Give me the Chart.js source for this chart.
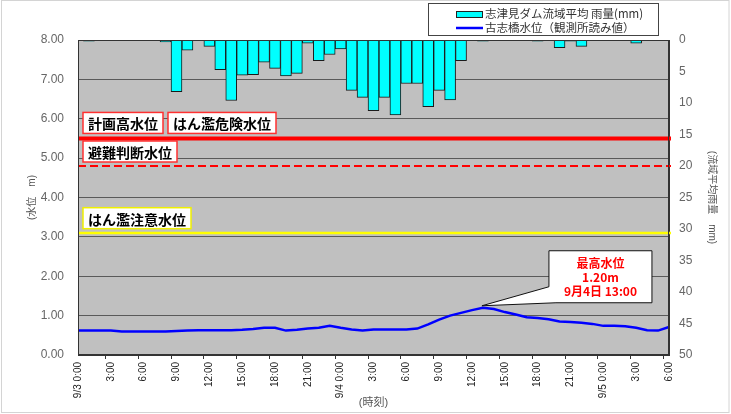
<!DOCTYPE html>
<html lang="ja">
<head>
<meta charset="utf-8">
<title>古志橋水位・志津見ダム流域平均雨量</title>
<script src="https://cdn.jsdelivr.net/npm/chart.js@4.4.1/dist/chart.umd.min.js"></script>
<style>
  body { margin: 0; background: #fff; }
  #wrap { width: 731px; height: 414px; }
</style>
</head>
<body>
<div id="wrap"><canvas id="chart" width="731" height="414"></canvas></div>
<script>
// 時刻（1時間毎、9/3 0:00 ～ 9/5 6:00）
const timeLabels = [
  '9/3 0:00', '1:00', '2:00', '3:00', '4:00', '5:00', '6:00', '7:00', '8:00', '9:00', '10:00', '11:00',
  '12:00', '13:00', '14:00', '15:00', '16:00', '17:00', '18:00', '19:00', '20:00', '21:00', '22:00', '23:00',
  '9/4 0:00', '1:00', '2:00', '3:00', '4:00', '5:00', '6:00', '7:00', '8:00', '9:00', '10:00', '11:00',
  '12:00', '13:00', '14:00', '15:00', '16:00', '17:00', '18:00', '19:00', '20:00', '21:00', '22:00', '23:00',
  '9/5 0:00', '1:00', '2:00', '3:00', '4:00', '5:00', '6:00'
];

// 志津見ダム流域平均雨量 (mm)
const rainfall = [
  0, 0.2, 0, 0, 0, 0, 0, 0, 0.3, 8.2, 1.6, 0,
  1.0, 4.7, 9.6, 5.6, 5.5, 3.5, 4.5, 5.7, 5.3, 0.5, 3.3, 2.3,
  1.4, 8.0, 9.1, 11.2, 9.1, 11.9, 6.9, 6.9, 10.6, 8.0, 9.5, 3.3,
  0, 0.2, 0, 0, 0, 0, 0.2, 0, 1.2, 0.2, 1.0, 0,
  0, 0, 0, 0.5, 0, 0, 0
];

// 古志橋水位 (m)
const waterLevel = [
  0.62, 0.62, 0.62, 0.62, 0.60, 0.60, 0.60, 0.60, 0.60, 0.61, 0.62, 0.63,
  0.63, 0.63, 0.63, 0.64, 0.66, 0.69, 0.69, 0.62, 0.64, 0.67, 0.69, 0.74,
  0.69, 0.65, 0.62, 0.65, 0.65, 0.65, 0.65, 0.67, 0.78, 0.90, 1.00, 1.07,
  1.14, 1.20, 1.17, 1.09, 1.03, 0.96, 0.94, 0.91, 0.85, 0.84, 0.82, 0.79,
  0.74, 0.74, 0.73, 0.69, 0.63, 0.62, 0.71
];

// 基準水位 (m)
const thresholdValues = [5.50, 4.80, 3.10];
const thresholdNames = [['計画高水位', 'はん濫危険水位'], ['避難判断水位'], ['はん濫注意水位']];

const peakText = ['最高水位', '1.20m', '9月4日 13:00'];
const rainLabel = '志津見ダム流域平均 雨量(mm)';
const levelLabel = '古志橋水位（観測所読み値）';

Chart.defaults.font.family = "'Liberation Sans', Arial, 'Noto Sans CJK JP', sans-serif";

const jpFont = "'Noto Sans CJK JP', sans-serif";

// 背景とプロット枠
const plotFrame = {
  id: 'plotFrame',
  beforeDraw(chart) {
    const { ctx, chartArea: a } = chart;
    ctx.save();
    ctx.fillStyle = '#fff';
    ctx.fillRect(0, 0, chart.width, chart.height);
    ctx.strokeStyle = '#d4d4d4';
    ctx.lineWidth = 1;
    ctx.strokeRect(1.5, 0.5, chart.width - 3.5, chart.height - 2);
    ctx.fillStyle = '#c0c0c0';
    ctx.fillRect(a.left, a.top, a.right - a.left, a.bottom - a.top);
    ctx.restore();
  },
  afterDraw(chart) {
    const { ctx, chartArea: a } = chart;
    ctx.save();
    ctx.strokeStyle = '#333';
    ctx.lineWidth = 1;
    ctx.strokeRect(a.left + 0.5, a.top + 0.5, a.right - a.left - 1, a.bottom - a.top - 1);
    ctx.restore();
  }
};

// 基準水位の線とラベル
const lineStyles = [
  { color: '#ff0000', width: 4, dash: [], box: '#ff3030' },
  { color: '#ff0000', width: 2, dash: [8, 4], box: '#ff3030' },
  { color: '#ffff00', width: 2.5, dash: [], box: '#f0f000' }
];

const thresholdLines = {
  id: 'thresholdLines',
  afterDatasetsDraw(chart) {
    const { ctx, chartArea: a, scales } = chart;
    ctx.save();
    thresholdValues.forEach((v, i) => {
      const st = lineStyles[i];
      const y = scales.y.getPixelForValue(v);
      ctx.beginPath();
      ctx.strokeStyle = st.color;
      ctx.lineWidth = st.width;
      ctx.setLineDash(st.dash);
      ctx.moveTo(a.left, y);
      ctx.lineTo(a.right + 2, y);
      ctx.stroke();
      ctx.setLineDash([]);

      ctx.font = 'bold 14px ' + jpFont;
      ctx.textBaseline = 'middle';
      ctx.textAlign = 'left';
      const bottom = y - st.width / 2 - 3;
      const h = 21;
      let x = a.left + 5;
      thresholdNames[i].forEach(name => {
        const w = ctx.measureText(name).width + 10;
        ctx.fillStyle = '#fff';
        ctx.fillRect(x, bottom - h, w, h);
        ctx.strokeStyle = st.box;
        ctx.lineWidth = 1.5;
        ctx.strokeRect(x, bottom - h, w, h);
        ctx.fillStyle = '#000';
        ctx.fillText(name, x + 5, bottom - h / 2 + 1);
        x += w + 5;
      });
    });
    ctx.restore();
  }
};

// 最高水位の吹き出し
const peakCallout = {
  id: 'peakCallout',
  afterDatasetsDraw(chart) {
    const { ctx, scales } = chart;
    const maxVal = Math.max(...waterLevel);
    const idx = waterLevel.indexOf(maxVal);
    const tx = scales.x.getPixelForValue(idx) - 1;
    const ty = scales.y.getPixelForValue(maxVal) - 2;
    const left = tx + 67, top = ty - 55, w = 103, h = 52;
    ctx.save();
    ctx.beginPath();
    ctx.moveTo(left, top);
    ctx.lineTo(left + w, top);
    ctx.lineTo(left + w, top + h);
    ctx.lineTo(left + 7, top + h);
    ctx.lineTo(tx, ty);
    ctx.lineTo(left, top + 36);
    ctx.closePath();
    ctx.fillStyle = '#fff';
    ctx.fill();
    ctx.strokeStyle = '#111';
    ctx.lineWidth = 1;
    ctx.stroke();
    ctx.fillStyle = '#ff0000';
    ctx.font = 'bold 12px ' + jpFont;
    ctx.textAlign = 'center';
    ctx.textBaseline = 'middle';
    peakText.forEach((t, i) => ctx.fillText(t, left + w / 2, top + 13 + i * 14));
    ctx.restore();
  }
};

// 凡例
const boxLegend = {
  id: 'boxLegend',
  afterDraw(chart) {
    const { ctx } = chart;
    const ds = chart.data.datasets;
    const rain = ds.find(d => d.yAxisID === 'y2');
    const level = ds.find(d => d.yAxisID === 'y');
    ctx.save();
    ctx.fillStyle = '#fff';
    ctx.fillRect(428.5, 3.5, 230, 32);
    ctx.strokeStyle = '#444';
    ctx.lineWidth = 1;
    ctx.strokeRect(428.5, 3.5, 230, 32);

    ctx.fillStyle = rain.backgroundColor;
    ctx.fillRect(456.5, 11.5, 26, 6);
    ctx.strokeStyle = '#222';
    ctx.strokeRect(456.5, 11.5, 26, 6);

    ctx.beginPath();
    ctx.strokeStyle = level.borderColor;
    ctx.lineWidth = 2.5;
    ctx.moveTo(456, 28);
    ctx.lineTo(483, 28);
    ctx.stroke();

    ctx.fillStyle = '#333';
    ctx.font = '11.5px ' + jpFont;
    ctx.textBaseline = 'middle';
    ctx.fillText(rain.label, 485, 14);
    ctx.fillText(level.label, 485, 28);
    ctx.restore();
  }
};

new Chart(document.getElementById('chart'), {
  type: 'bar',
  data: {
    labels: timeLabels,
    datasets: [
      {
        type: 'line',
        label: levelLabel,
        data: waterLevel,
        yAxisID: 'y',
        borderColor: '#0000ff',
        borderWidth: 2.5,
        pointRadius: 0,
        tension: 0,
        order: 0
      },
      {
        label: rainLabel,
        data: rainfall,
        yAxisID: 'y2',
        backgroundColor: '#00ffff',
        borderColor: '#1a1a1a',
        borderWidth: 1,
        barPercentage: 1,
        categoryPercentage: 1,
        order: 1
      }
    ]
  },
  options: {
    responsive: false,
    animation: false,
    layout: { padding: { top: 40, left: 0, right: 0, bottom: 0 } },
    plugins: {
      legend: { display: false },
      tooltip: { enabled: false }
    },
    scales: {
      x: {
        offset: false,
        grid: {
          drawOnChartArea: false,
          tickLength: 4,
          color: c => (c.index % 3 === 0 ? '#333' : 'rgba(0,0,0,0)')
        },
        border: { color: '#333' },
        ticks: {
          autoSkip: false,
          maxRotation: 90,
          minRotation: 90,
          padding: 3,
          color: '#222',
          font: { size: 10 },
          callback: (v, i) => (i % 3 === 0 ? timeLabels[i] : '')
        },
        title: { display: true, text: '(時刻)', color: '#555', font: { size: 11 }, padding: { top: 0, bottom: 4 } },
        afterFit: s => { s.height = 59; }
      },
      y: {
        position: 'left',
        min: 0,
        max: 8,
        ticks: { stepSize: 1, padding: 14, color: '#666', font: { size: 12 }, callback: v => v.toFixed(2) },
        grid: { color: '#5a5a5a', drawTicks: false },
        border: { color: '#333' },
        title: { display: true, text: '(水位　m)', color: '#555', font: { size: 10 }, padding: { top: 26, bottom: 0 } },
        afterFit: s => { s.width = 78; }
      },
      y2: {
        position: 'right',
        reverse: true,
        min: 0,
        max: 50,
        ticks: { stepSize: 5, padding: 10, color: '#666', font: { size: 12 } },
        grid: { drawOnChartArea: false, drawTicks: false },
        border: { color: '#333' },
        title: { display: true, text: '(流域平均雨量　mm)', color: '#555', font: { size: 10 }, padding: { top: 13, bottom: 0 } },
        afterFit: s => { s.width = 62; }
      }
    }
  },
  plugins: [plotFrame, thresholdLines, peakCallout, boxLegend]
});
</script>
</body>
</html>
